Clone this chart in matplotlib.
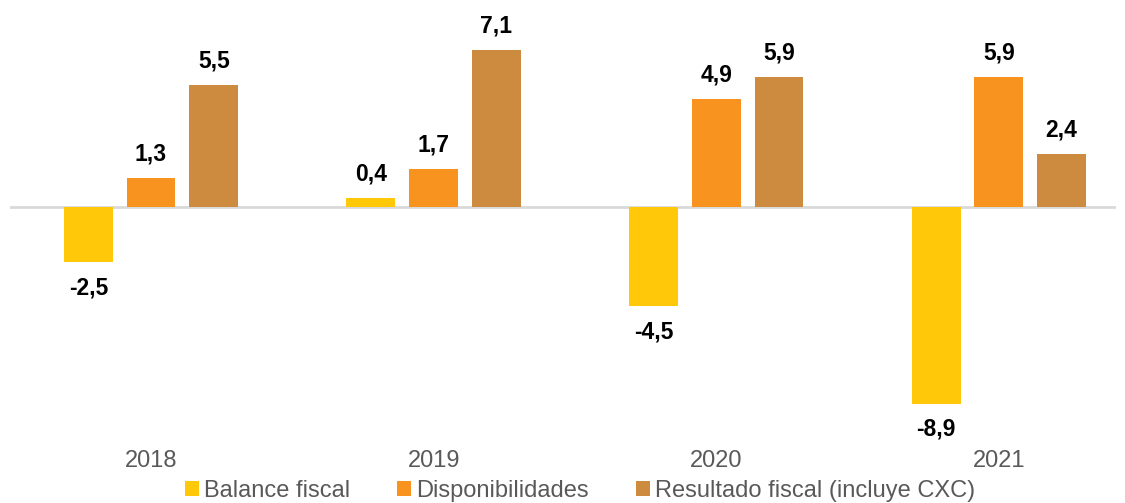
import matplotlib.pyplot as plt
import numpy as np

years = ["2018", "2019", "2020", "2021"]
balance_fiscal = [-2.5, 0.4, -4.5, -8.9]
disponibilidades = [1.3, 1.7, 4.9, 5.9]
resultado_fiscal = [5.5, 7.1, 5.9, 2.4]

series_names = ["Balance fiscal", "Disponibilidades", "Resultado fiscal (incluye CXC)"]
colors = ["#FFC90A", "#F7931E", "#CD8B3F"]


def main():
    plt.rcParams["font.family"] = ["Liberation Sans", "DejaVu Sans"]

    fig = plt.figure(figsize=(11.25, 5.03), dpi=100)
    ax = fig.add_axes([0.0089, 0.127, 0.983, 0.813])

    x = np.arange(len(years))
    width = 0.173
    offsets = [-0.222, 0.0, 0.222]
    series = [balance_fiscal, disponibilidades, resultado_fiscal]

    for vals, off, col, name in zip(series, offsets, colors, series_names):
        bars = ax.bar(x + off, vals, width, color=col, label=name, zorder=2)
        for b, v in zip(bars, vals):
            if v >= 0:
                y_off = 9
                va = "bottom"
            else:
                y_off = -10
                va = "top"
            ax.annotate(
                f"{v:.1f}".replace(".", ","),
                (b.get_x() + b.get_width() / 2, v),
                xytext=(0, y_off),
                textcoords="offset points",
                ha="center",
                va=va,
                fontsize=16.5,
                fontweight="bold",
                color="black",
            )

    # Zero line
    ax.axhline(0, color="#D9D9D9", linewidth=2, zorder=1)

    ax.set_xlim(-0.499, 3.414)
    ax.set_ylim(-10.5, 8)
    ax.set_xticks(x)
    ax.set_xticklabels(years, fontsize=17, color="#595959")
    ax.tick_params(axis="x", length=0, pad=8)
    ax.set_yticks([])
    for s in ax.spines.values():
        s.set_visible(False)

    fig.legend(
        loc="center",
        bbox_to_anchor=(0.5156, 0.024),
        ncol=3,
        frameon=False,
        fontsize=17,
        handlelength=0.6,
        handleheight=0.6,
        handletextpad=0.2,
        columnspacing=2.0,
        labelcolor="#595959",
    )

    fig.savefig("out.png", dpi=100)


if __name__ == "__main__":
    main()
